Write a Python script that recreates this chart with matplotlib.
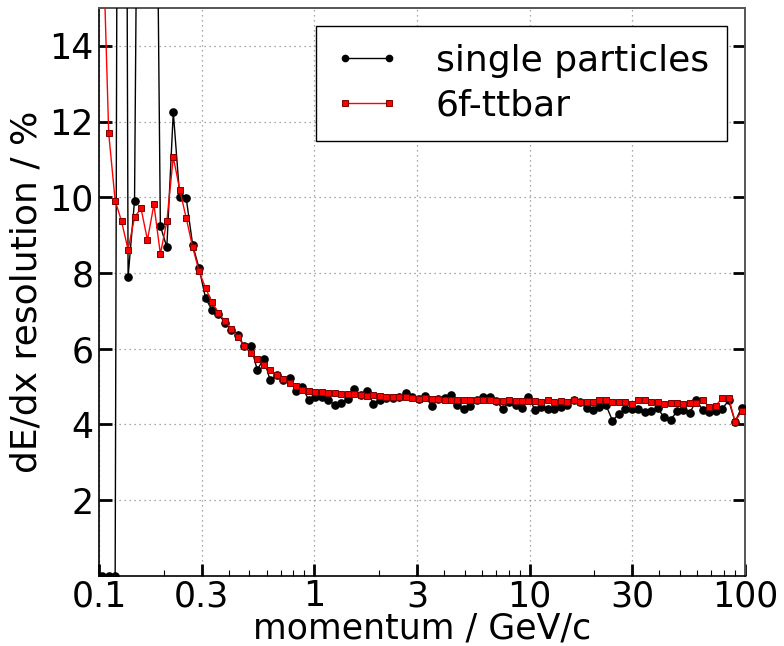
import numpy as np
import matplotlib
matplotlib.use('Agg')
import matplotlib.pyplot as plt
from matplotlib.ticker import FixedLocator, LogLocator, NullFormatter

# 100 log bins between 0.1 and 100 GeV/c, values at bin centres
edges = np.logspace(-1, 2, 101)
momentum = np.sqrt(edges[:-1] * edges[1:])

single_particles = [
    0.0, 0.0, 0.0, 60.0, 7.89, 9.91, 32.0, 40.0, 27.0, 9.24,
    8.68, 12.25, 10.0, 9.98, 8.74, 8.12, 7.33, 7.02, 6.92, 6.68,
    6.50, 6.36, 6.06, 6.08, 5.44, 5.73, 5.17, 5.30, 5.17, 5.23,
    4.88, 4.98, 4.63, 4.72, 4.71, 4.65, 4.51, 4.57, 4.66, 4.93,
    4.78, 4.89, 4.54, 4.64, 4.70, 4.70, 4.72, 4.82, 4.71, 4.68,
    4.75, 4.49, 4.68, 4.70, 4.78, 4.51, 4.41, 4.48, 4.63, 4.71,
    4.71, 4.62, 4.41, 4.58, 4.50, 4.42, 4.73, 4.38, 4.45, 4.41,
    4.41, 4.45, 4.51, 4.64, 4.58, 4.42, 4.38, 4.47, 4.51, 4.10,
    4.27, 4.40, 4.40, 4.41, 4.32, 4.35, 4.42, 4.19, 4.12, 4.34,
    4.38, 4.31, 4.63, 4.38, 4.32, 4.34, 4.41, 4.63, 4.07, 4.44,
]

ttbar_6f = [
    17.5, 11.69, 9.91, 9.36, 8.61, 9.47, 9.71, 8.87, 9.81, 8.50,
    9.36, 11.06, 10.2, 9.45, 8.68, 8.04, 7.60, 7.22, 6.95, 6.72,
    6.52, 6.31, 6.06, 5.88, 5.72, 5.58, 5.43, 5.31, 5.20, 5.10,
    5.00, 4.92, 4.88, 4.86, 4.85, 4.84, 4.82, 4.80, 4.79, 4.80,
    4.78, 4.76, 4.77, 4.74, 4.72, 4.72, 4.72, 4.71, 4.69, 4.68,
    4.69, 4.67, 4.68, 4.65, 4.64, 4.64, 4.64, 4.63, 4.63, 4.63,
    4.63, 4.62, 4.61, 4.63, 4.61, 4.61, 4.62, 4.61, 4.60, 4.64,
    4.59, 4.62, 4.60, 4.64, 4.60, 4.60, 4.59, 4.63, 4.63, 4.60,
    4.60, 4.59, 4.54, 4.64, 4.63, 4.60, 4.59, 4.54, 4.57, 4.57,
    4.54, 4.56, 4.56, 4.64, 4.45, 4.49, 4.70, 4.70, 4.07, 4.35,
]

x_ticks = [0.1, 0.3, 1, 3, 10, 30, 100]
x_tick_labels = ['0.1', '0.3', '1', '3', '10', '30', '100']
y_ticks = [2, 4, 6, 8, 10, 12, 14]

fig = plt.figure(figsize=(7.84, 6.46), dpi=100)
ax = fig.add_axes([0.1263, 0.1088, 0.8237, 0.8788])

ax.plot(momentum, single_particles, '-o', color='black', lw=1.0,
        ms=5.2, mec='black', label='single particles', zorder=3)
ax.plot(momentum, ttbar_6f, '-s', color='red', lw=1.0,
        ms=5, mfc='red', mec='#7a0000', mew=0.7, label='6f-ttbar', zorder=4)

ax.set_xscale('log')
ax.set_xlim(0.1, 100)
ax.set_ylim(0, 15)

ax.xaxis.set_major_locator(FixedLocator(x_ticks))
ax.set_xticklabels(x_tick_labels)
ax.xaxis.set_minor_locator(LogLocator(base=10, subs=[2, 4, 5, 6, 7, 8, 9]))
ax.xaxis.set_minor_formatter(NullFormatter())
ax.set_yticks(y_ticks)

ax.tick_params(axis='both', which='major', direction='in', length=9,
               width=2, labelsize=25, pad=4)
ax.tick_params(axis='x', which='major', pad=2.5)
ax.tick_params(axis='x', which='minor', direction='in', length=4, width=0.8)
ax.tick_params(axis='y', which='both', left=True, right=True)
ax.tick_params(axis='x', which='both', top=False, bottom=True)

ax.grid(True, which='major', linestyle=(0, (1, 3)), color='0.55', lw=0.9)

for side in ['left', 'bottom']:
    ax.spines[side].set_color('black')
    ax.spines[side].set_linewidth(1.2)
for side in ['right', 'top']:
    ax.spines[side].set_color('#555555')
    ax.spines[side].set_linewidth(1.4)

ax.set_xlabel('momentum / GeV/c', fontsize=25, labelpad=-1.5)
ax.set_ylabel('dE/dx resolution / %', fontsize=26, labelpad=4)

leg = ax.legend(loc='upper right', fontsize=26, numpoints=2, fancybox=False,
                framealpha=1, edgecolor='black', handlelength=1.8,
                handletextpad=1.0, borderpad=0.5, labelspacing=0.3,
                borderaxespad=0.5)
leg.get_frame().set_linewidth(1.0)
for h in leg.legend_handles:
    h.set_markersize(4.5)

fig.savefig('out.png', dpi=100)
